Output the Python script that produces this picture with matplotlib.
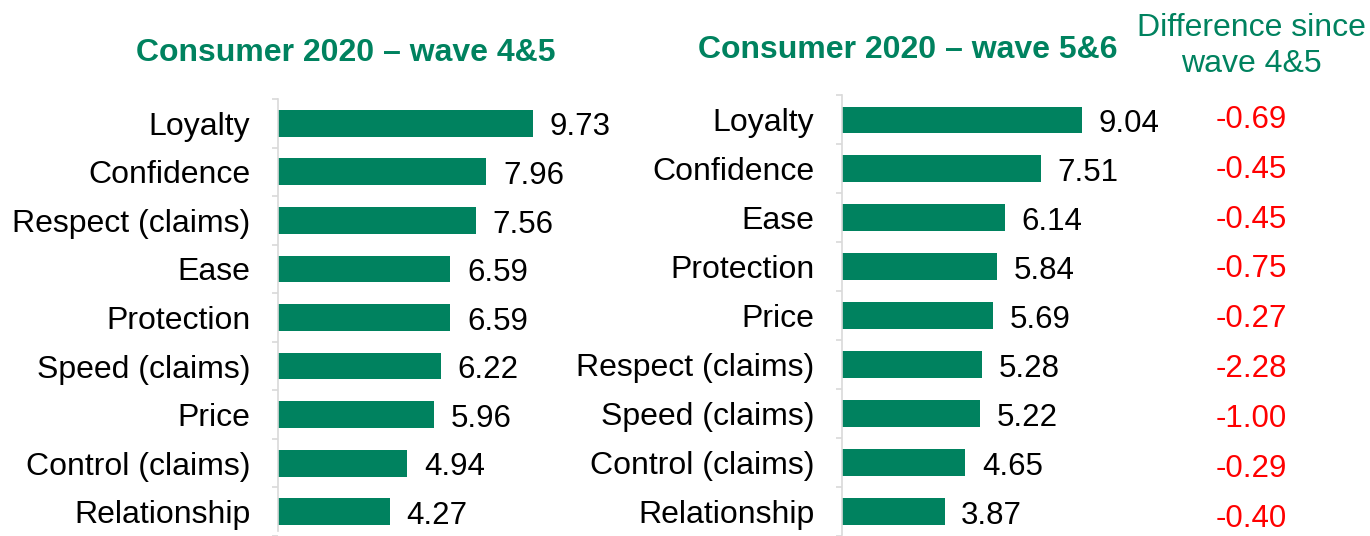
import matplotlib
matplotlib.use("Agg")
import matplotlib.pyplot as plt
import numpy as np
from matplotlib.transforms import blended_transform_factory

plt.rcParams['font.family'] = ['Liberation Sans', 'DejaVu Sans']

# Data
cats_45 = ["Loyalty", "Confidence", "Respect (claims)", "Ease", "Protection",
           "Speed (claims)", "Price", "Control (claims)", "Relationship"]
vals_45 = [9.73, 7.96, 7.56, 6.59, 6.59, 6.22, 5.96, 4.94, 4.27]
cats_56 = ["Loyalty", "Confidence", "Ease", "Protection", "Price",
           "Respect (claims)", "Speed (claims)", "Control (claims)", "Relationship"]
vals_56 = [9.04, 7.51, 6.14, 5.84, 5.69, 5.28, 5.22, 4.65, 3.87]
diffs = ["-0.69", "-0.45", "-0.45", "-0.75", "-0.27", "-2.28", "-1.00", "-0.29", "-0.40"]

title_45 = "Consumer 2020 \u2013 wave 4&5"
title_56 = "Consumer 2020 \u2013 wave 5&6"
diff_title = "Difference since\nwave 4&5"

GREEN = "#00825F"
RED = "#FF0000"
SPINE = "#D9D9D9"

W, H = 1370, 536
fig = plt.figure(figsize=(W / 100, H / 100), dpi=100)

def make_ax(left_px, top_px, width_px):
    return fig.add_axes([left_px / W, 0, width_px / W, (H - top_px) / H])

def draw(ax, cats, vals, ybot):
    y = np.arange(len(cats))
    ax.barh(y, vals, height=0.55, color=GREEN)
    ax.set_xlim(0, 12)
    ax.set_ylim(ybot, -0.5)
    ax.set_yticks(y)
    ax.set_yticklabels(cats, fontsize=23)
    ax.tick_params(axis='y', which='major', length=0, pad=20)
    ax.set_yticks(np.arange(-0.5, len(cats), 1.0), minor=True)
    ax.tick_params(axis='y', which='minor', length=4.5, width=1.2, color=SPINE, direction='out')
    ax.set_xticks([])
    for s in ["top", "right", "bottom"]:
        ax.spines[s].set_visible(False)
    ax.spines["left"].set_color(SPINE)
    ax.spines["left"].set_linewidth(1.2)
    ax.spines["left"].set_bounds(-0.5, ybot)
    for yi, v in zip(y, vals):
        ax.annotate(f"{v:.2f}", (v, yi), xytext=(12, -3), textcoords="offset points",
                    va="center", ha="left", fontsize=22.5, color="black")
    return ax

ax1 = make_ax(278, 99, 314)
draw(ax1, cats_45, vals_45, 8.4)
ax2 = make_ax(842, 95.5, 318)
draw(ax2, cats_56, vals_56, 8.47)

fig.text(346 / W, 1 - 53 / H, title_45, ha="center", va="center", fontsize=23,
         fontweight="bold", color=GREEN)
fig.text(908 / W, 1 - 50 / H, title_56, ha="center", va="center", fontsize=23,
         fontweight="bold", color=GREEN)
fig.text(1251 / W, 1 - 46 / H, diff_title, ha="center", va="center", fontsize=23,
         color=GREEN, linespacing=1.3)

tr = blended_transform_factory(fig.transFigure, ax2.transData)
for i, d in enumerate(diffs):
    ax2.text(1251 / W, i * 1.018, d, transform=tr, ha="center", va="center",
             fontsize=22.5, color=RED, clip_on=False)

fig.savefig("out.png", dpi=100)
